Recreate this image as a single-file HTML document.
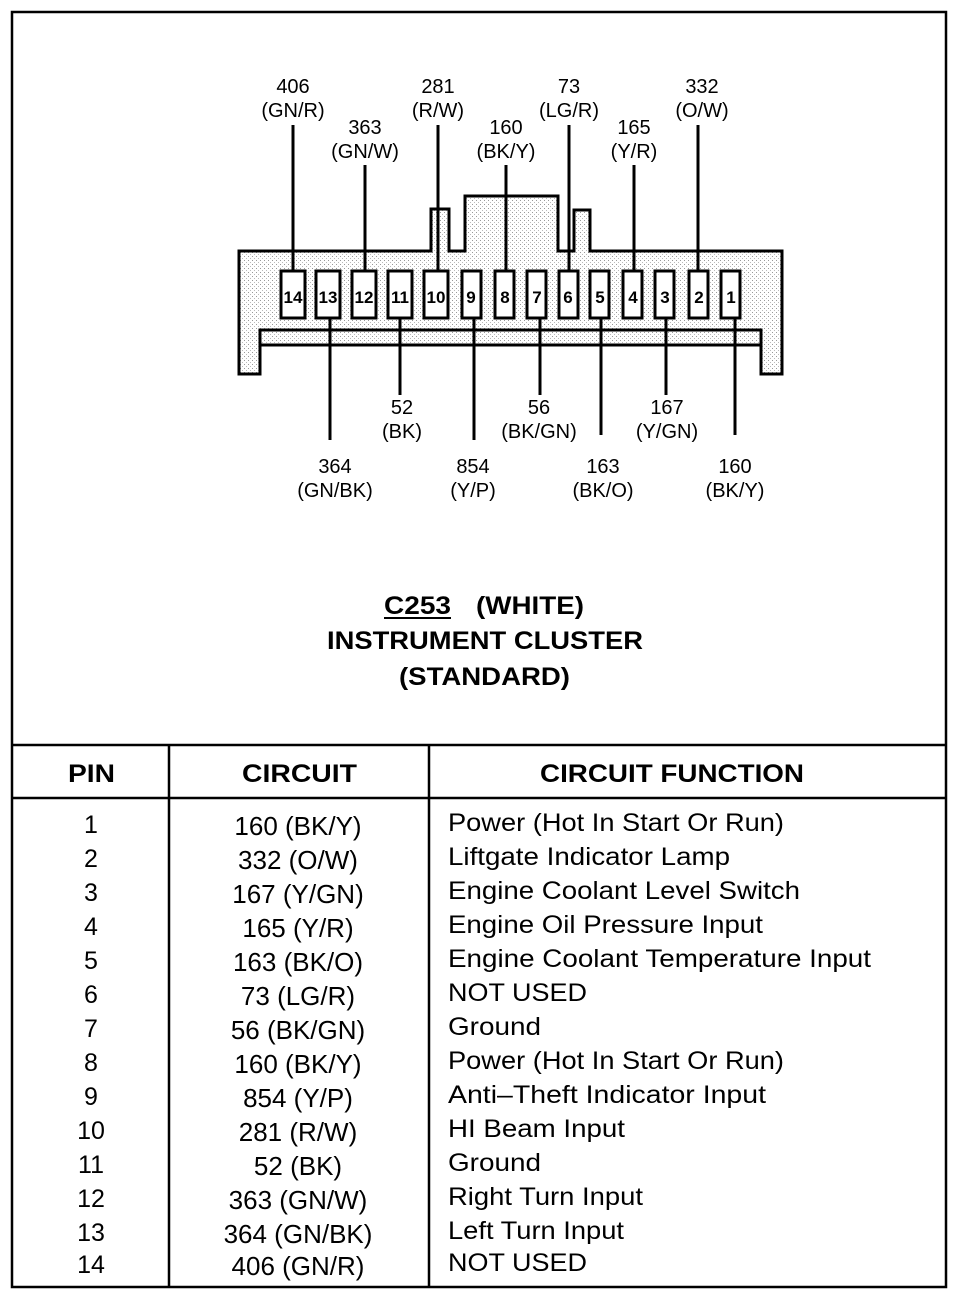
<!DOCTYPE html>
<html><head><meta charset="utf-8"><style>
body{margin:0;background:#fff}
svg{display:block}
text{font-family:"Liberation Sans",sans-serif;fill:#000}
</style></head><body>
<svg width="960" height="1296" viewBox="0 0 960 1296" xmlns="http://www.w3.org/2000/svg">
<defs>
<pattern id="st" width="4" height="4" patternUnits="userSpaceOnUse">
<rect width="4" height="4" fill="#fff"/><rect x="0" y="0" width="1" height="1" fill="#999"/><rect x="2" y="2" width="1" height="1" fill="#bbb"/>
</pattern>
</defs>
<rect x="12" y="12" width="934" height="1275" fill="none" stroke="#000" stroke-width="2.5"/>
<path d="M239,251 L431,251 L431,209 L449,209 L449,251 L465,251 L465,196 L558,196 L558,251 L574,251 L574,210 L590,210 L590,251 L782,251 L782,374 L761,374 L761,330 L260,330 L260,374 L239,374 Z" fill="url(#st)" stroke="#000" stroke-width="3"/>
<rect x="260" y="330" width="501" height="15" fill="url(#st)" stroke="#000" stroke-width="3"/>
<g stroke="#000" stroke-width="3" fill="none">
<line x1="293" y1="125" x2="293" y2="270"/>
<line x1="365" y1="165" x2="365" y2="270"/>
<line x1="438" y1="125" x2="438" y2="270"/>
<line x1="506" y1="165" x2="506" y2="270"/>
<line x1="569" y1="125" x2="569" y2="270"/>
<line x1="634" y1="165" x2="634" y2="270"/>
<line x1="698" y1="125" x2="698" y2="270"/>
<line x1="330" y1="318" x2="330" y2="440"/>
<line x1="400" y1="318" x2="400" y2="395"/>
<line x1="474" y1="318" x2="474" y2="440"/>
<line x1="540" y1="318" x2="540" y2="395"/>
<line x1="601" y1="318" x2="601" y2="435"/>
<line x1="666" y1="318" x2="666" y2="395"/>
<line x1="735" y1="318" x2="735" y2="435"/>
</g>
<g stroke="#000" stroke-width="3" fill="#fff">
<rect x="281" y="271" width="24" height="47"/>
<rect x="316" y="271" width="24" height="47"/>
<rect x="352" y="271" width="24" height="47"/>
<rect x="388" y="271" width="24" height="47"/>
<rect x="424" y="271" width="24" height="47"/>
<rect x="462" y="271" width="19" height="47"/>
<rect x="495" y="271" width="19" height="47"/>
<rect x="527" y="271" width="19" height="47"/>
<rect x="559" y="271" width="19" height="47"/>
<rect x="590" y="271" width="19" height="47"/>
<rect x="623" y="271" width="19" height="47"/>
<rect x="655" y="271" width="19" height="47"/>
<rect x="689" y="271" width="19" height="47"/>
<rect x="721" y="271" width="19" height="47"/>
</g>
<g font-size="17" font-weight="bold" text-anchor="middle">
<text x="293" y="303">14</text><text x="328" y="303">13</text><text x="364" y="303">12</text><text x="400" y="303">11</text><text x="436" y="303">10</text>
<text x="471" y="303">9</text><text x="505" y="303">8</text><text x="537" y="303">7</text><text x="568" y="303">6</text><text x="600" y="303">5</text>
<text x="633" y="303">4</text><text x="665" y="303">3</text><text x="699" y="303">2</text><text x="731" y="303">1</text>
</g>
<g font-size="20" text-anchor="middle">
<text x="293" y="93">406</text><text x="293" y="117">(GN/R)</text>
<text x="365" y="134">363</text><text x="365" y="158">(GN/W)</text>
<text x="438" y="93">281</text><text x="438" y="117">(R/W)</text>
<text x="506" y="134">160</text><text x="506" y="158">(BK/Y)</text>
<text x="569" y="93">73</text><text x="569" y="117">(LG/R)</text>
<text x="634" y="134">165</text><text x="634" y="158">(Y/R)</text>
<text x="702" y="93">332</text><text x="702" y="117">(O/W)</text>
<text x="402" y="414">52</text><text x="402" y="438">(BK)</text>
<text x="539" y="414">56</text><text x="539" y="438">(BK/GN)</text>
<text x="667" y="414">167</text><text x="667" y="438">(Y/GN)</text>
<text x="335" y="473">364</text><text x="335" y="497">(GN/BK)</text>
<text x="473" y="473">854</text><text x="473" y="497">(Y/P)</text>
<text x="603" y="473">163</text><text x="603" y="497">(BK/O)</text>
<text x="735" y="473">160</text><text x="735" y="497">(BK/Y)</text>
</g>
<g font-size="25" font-weight="bold">
<text x="384" y="614" textLength="67" lengthAdjust="spacingAndGlyphs">C253</text>
<line x1="384" y1="618" x2="451" y2="618" stroke="#000" stroke-width="2"/>
<text x="476" y="614" textLength="108" lengthAdjust="spacingAndGlyphs">(WHITE)</text>
<text x="327" y="649" textLength="316" lengthAdjust="spacingAndGlyphs">INSTRUMENT CLUSTER</text>
<text x="399" y="685" textLength="171" lengthAdjust="spacingAndGlyphs">(STANDARD)</text>
</g>
<g stroke="#000" stroke-width="2.5">
<line x1="12" y1="745" x2="946" y2="745"/>
<line x1="12" y1="798" x2="946" y2="798"/>
<line x1="169" y1="745" x2="169" y2="1287"/>
<line x1="429" y1="745" x2="429" y2="1287"/>
</g>
<g font-size="25" font-weight="bold">
<text x="68" y="782" textLength="47" lengthAdjust="spacingAndGlyphs">PIN</text>
<text x="242" y="782" textLength="115" lengthAdjust="spacingAndGlyphs">CIRCUIT</text>
<text x="540" y="782" textLength="264" lengthAdjust="spacingAndGlyphs">CIRCUIT FUNCTION</text>
</g>
<g font-size="25" text-anchor="middle">
<text x="91" y="833">1</text><text x="91" y="867">2</text><text x="91" y="901">3</text><text x="91" y="935">4</text><text x="91" y="969">5</text><text x="91" y="1003">6</text><text x="91" y="1037">7</text><text x="91" y="1071">8</text><text x="91" y="1105">9</text><text x="91" y="1139">10</text><text x="91" y="1173">11</text><text x="91" y="1207">12</text><text x="91" y="1241">13</text><text x="91" y="1273">14</text>
</g>
<g font-size="26" text-anchor="middle">
<text x="298" y="835">160 (BK/Y)</text><text x="298" y="869">332 (O/W)</text><text x="298" y="903">167 (Y/GN)</text><text x="298" y="937">165 (Y/R)</text><text x="298" y="971">163 (BK/O)</text><text x="298" y="1005">73 (LG/R)</text><text x="298" y="1039">56 (BK/GN)</text><text x="298" y="1073">160 (BK/Y)</text><text x="298" y="1107">854 (Y/P)</text><text x="298" y="1141">281 (R/W)</text><text x="298" y="1175">52 (BK)</text><text x="298" y="1209">363 (GN/W)</text><text x="298" y="1243">364 (GN/BK)</text><text x="298" y="1275">406 (GN/R)</text>
</g>
<g font-size="25">
<text x="448" y="831" textLength="336" lengthAdjust="spacingAndGlyphs">Power (Hot In Start Or Run)</text>
<text x="448" y="865" textLength="282" lengthAdjust="spacingAndGlyphs">Liftgate Indicator Lamp</text>
<text x="448" y="899" textLength="352" lengthAdjust="spacingAndGlyphs">Engine Coolant Level Switch</text>
<text x="448" y="933" textLength="315" lengthAdjust="spacingAndGlyphs">Engine Oil Pressure Input</text>
<text x="448" y="967" textLength="423" lengthAdjust="spacingAndGlyphs">Engine Coolant Temperature Input</text>
<text x="448" y="1001" textLength="139" lengthAdjust="spacingAndGlyphs">NOT USED</text>
<text x="448" y="1035" textLength="93" lengthAdjust="spacingAndGlyphs">Ground</text>
<text x="448" y="1069" textLength="336" lengthAdjust="spacingAndGlyphs">Power (Hot In Start Or Run)</text>
<text x="448" y="1103" textLength="318" lengthAdjust="spacingAndGlyphs">Anti–Theft Indicator Input</text>
<text x="448" y="1137" textLength="177" lengthAdjust="spacingAndGlyphs">HI Beam Input</text>
<text x="448" y="1171" textLength="93" lengthAdjust="spacingAndGlyphs">Ground</text>
<text x="448" y="1205" textLength="195" lengthAdjust="spacingAndGlyphs">Right Turn Input</text>
<text x="448" y="1239" textLength="176" lengthAdjust="spacingAndGlyphs">Left Turn Input</text>
<text x="448" y="1271" textLength="139" lengthAdjust="spacingAndGlyphs">NOT USED</text>
</g>
</svg>
</body></html>
